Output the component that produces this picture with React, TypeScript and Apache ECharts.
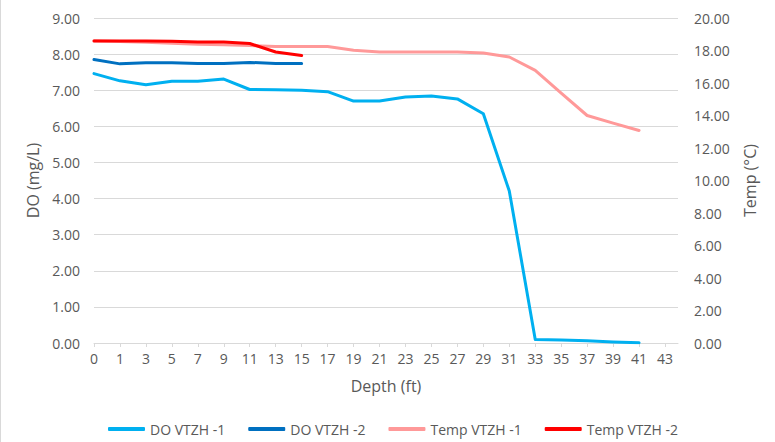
import React, { useEffect, useRef } from "react";
import * as echarts from "echarts";

const depthLabels = ["0", "1", "3", "5", "7", "9", "11", "13", "15", "17", "19", "21", "23", "25", "27", "29", "31", "33", "35", "37", "39", "41", "43"];

const doVtzh1 = [7.46, 7.26, 7.15, 7.25, 7.25, 7.31, 7.02, 7.01, 7.0, 6.96, 6.7, 6.7, 6.81, 6.84, 6.76, 6.35, 4.21, 0.1, 0.08, 0.06, 0.03, 0.01];
const doVtzh2 = [7.85, 7.73, 7.76, 7.76, 7.74, 7.74, 7.77, 7.74, 7.74];
const tempVtzh1 = [18.6, 18.55, 18.5, 18.45, 18.38, 18.36, 18.3, 18.24, 18.25, 18.24, 18.01, 17.91, 17.91, 17.91, 17.91, 17.85, 17.6, 16.78, 15.38, 14.0, 13.53, 13.08];
const tempVtzh2 = [18.59, 18.59, 18.59, 18.57, 18.53, 18.53, 18.43, 17.91, 17.69];

const seriesNames = ["DO VTZH -1", "DO VTZH -2", "Temp VTZH -1", "Temp VTZH -2"];
const seriesColors = ["#00B0F0", "#0070C0", "#FF9999", "#FF0000"];

const toPairs = (arr: number[]) => arr.map((v, i) => [i, v]);

export default function App() {
  const ref = useRef<HTMLDivElement>(null);
  useEffect(() => {
    if (!ref.current) return;
    const chart = echarts.init(ref.current, null, { renderer: "svg" });
    const font = "'Open Sans', sans-serif";
    const labelColor = "#595959";
    const gridColor = "#D9D9D9";
    const tickIdx = depthLabels.map((_, i) => i);
    const mk = (name: string, color: string, data: number[], yAxisIndex: number) => ({
      name,
      type: "line",
      yAxisIndex,
      data: toPairs(data),
      showSymbol: false,
      symbol: "none",
      lineStyle: { color, width: 3, cap: "round", join: "round" },
      itemStyle: { color },
    });
    chart.setOption({
      animation: false,
      textStyle: { fontFamily: font },
      grid: { left: 93, right: 97, top: 18, bottom: 99, containLabel: false },
      legend: {
        top: 417,
        left: 102,
        itemWidth: 37,
        itemHeight: 4,
        itemGap: 23,
        icon: "roundRect",
        data: seriesNames,
        textStyle: { color: labelColor, fontSize: 14, fontFamily: font },
      },
      xAxis: {
        type: "value",
        min: 0,
        max: depthLabels.length - 0.5,
        interval: 1,
        name: "Depth (ft)",
        nameLocation: "middle",
        nameGap: 35,
        nameTextStyle: { color: labelColor, fontSize: 16, fontFamily: font },
        axisLine: { show: true, lineStyle: { color: gridColor } },
        axisTick: { show: true, length: 4, lineStyle: { color: gridColor }, customValues: tickIdx },
        axisLabel: {
          color: labelColor,
          fontSize: 14,
          margin: 8,
          customValues: tickIdx,
          formatter: (v: number) => (Number.isInteger(v) && depthLabels[v] !== undefined ? depthLabels[v] : ""),
        },
        splitLine: { show: false },
      },
      yAxis: [
        {
          type: "value",
          min: 0,
          max: 9,
          interval: 1,
          name: "DO (mg/L)",
          nameLocation: "middle",
          nameRotate: 90,
          nameGap: 50,
          nameTextStyle: { color: labelColor, fontSize: 16, fontFamily: font },
          axisLine: { show: false },
          axisTick: { show: false },
          axisLabel: { color: labelColor, fontSize: 14, margin: 14, formatter: (v: number) => v.toFixed(2) },
          splitLine: { show: true, lineStyle: { color: gridColor, width: 1 } },
        },
        {
          type: "value",
          min: 0,
          max: 20,
          interval: 2,
          position: "right",
          name: "Temp (°C)",
          nameLocation: "middle",
          nameRotate: 90,
          nameGap: 64,
          nameTextStyle: { color: labelColor, fontSize: 16, fontFamily: font },
          axisLine: { show: false },
          axisTick: { show: false },
          axisLabel: { color: labelColor, fontSize: 14, margin: 16, formatter: (v: number) => v.toFixed(2) },
          splitLine: { show: false },
        },
      ],
      series: [
        mk(seriesNames[0], seriesColors[0], doVtzh1, 0),
        mk(seriesNames[1], seriesColors[1], doVtzh2, 0),
        mk(seriesNames[2], seriesColors[2], tempVtzh1, 1),
        mk(seriesNames[3], seriesColors[3], tempVtzh2, 1),
      ],
    });
    return () => chart.dispose();
  }, []);
  return (
    <div
      ref={ref}
      style={{ position: "absolute", left: 0, top: 0, width: 775, height: 442, background: "#fff", borderLeft: "1px solid #D9D9D9", boxSizing: "border-box" }}
    />
  );
}
